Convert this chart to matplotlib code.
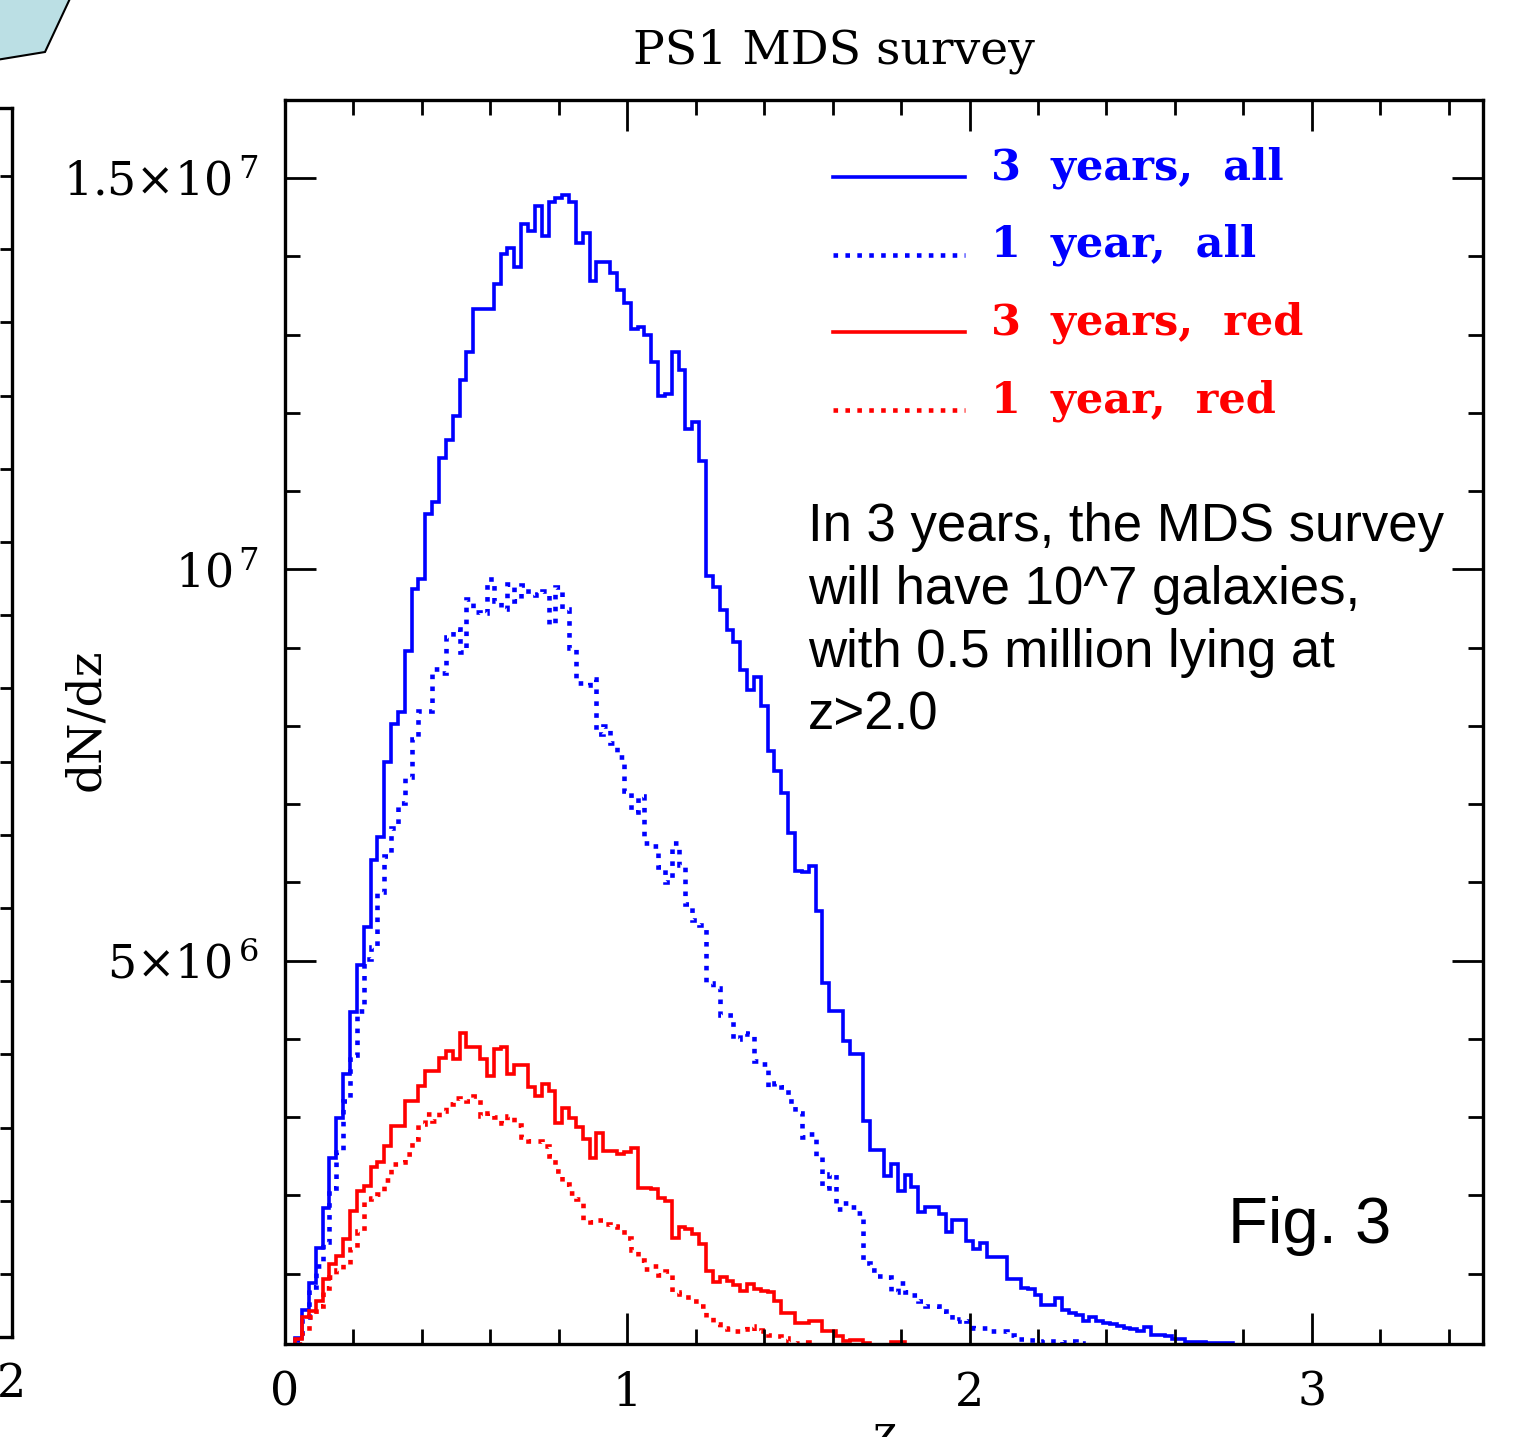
import numpy as np
import matplotlib
matplotlib.use("Agg")
import matplotlib.pyplot as plt
from matplotlib.lines import Line2D
from matplotlib.patches import Polygon
from matplotlib.legend_handler import HandlerLine2D
from matplotlib.ticker import MultipleLocator, FixedLocator, FixedFormatter

plt.rcParams["mathtext.fontset"] = "dejavuserif"

W, H, DPI = 1516, 1437, 100

# Histogram binning in redshift
bin_width = 0.02
z_first_edge = 0.03

# dN/dz per redshift bin, in units of 1e6 galaxies
all_3yr = [
    0.18, 0.54, 0.88, 1.33, 1.84, 2.48, 2.99, 3.55, 4.34, 4.95,
    5.43, 6.28, 6.58, 7.54, 8.03, 8.18, 8.96, 9.75, 9.88, 10.71,
    10.86, 11.42, 11.66, 11.96, 12.42, 12.78, 13.33, 13.33, 13.33, 13.65,
    14.03, 14.11, 13.87, 14.42, 14.33, 14.64, 14.26, 14.70, 14.75, 14.78,
    14.70, 14.17, 14.30, 13.69, 13.93, 13.93, 13.79, 13.57, 13.41, 13.07,
    13.10, 13.00, 12.65, 12.22, 12.24, 12.78, 12.55, 11.80, 11.89, 11.39,
    9.91, 9.77, 9.48, 9.23, 9.07, 8.72, 8.46, 8.63, 8.25, 7.68,
    7.42, 7.14, 6.63, 6.15, 6.13, 6.21, 5.64, 4.71, 4.36, 4.36,
    3.97, 3.81, 3.81, 2.95, 2.58, 2.58, 2.25, 2.40, 2.05, 2.26,
    2.11, 1.79, 1.85, 1.85, 1.76, 1.53, 1.68, 1.68, 1.42, 1.31,
    1.39, 1.21, 1.21, 1.21, 0.93, 0.93, 0.82, 0.80, 0.72, 0.60,
    0.60, 0.69, 0.53, 0.50, 0.47, 0.39, 0.44, 0.39, 0.37, 0.35,
    0.33, 0.31, 0.29, 0.27, 0.32, 0.22, 0.21, 0.20, 0.16, 0.16,
    0.13, 0.13, 0.13, 0.11, 0.11, 0.11, 0.11,
]
all_1yr = [
    0.15, 0.45, 0.83, 1.10, 1.40, 2.10, 2.55, 3.20, 3.80, 4.35,
    5.02, 5.17, 5.88, 6.34, 6.69, 7.01, 7.35, 7.83, 8.19, 8.19,
    8.73, 8.67, 9.14, 9.24, 8.95, 9.62, 9.45, 9.44, 9.88, 9.60,
    9.50, 9.82, 9.60, 9.80, 9.68, 9.67, 9.72, 9.30, 9.78, 9.50,
    9.00, 8.55, 8.52, 8.60, 7.90, 8.00, 7.78, 7.60, 7.17, 6.90,
    7.10, 6.50, 6.47, 6.20, 6.00, 6.50, 6.22, 5.72, 5.52, 5.45,
    4.72, 4.65, 4.30, 4.30, 4.00, 4.08, 4.06, 3.72, 3.68, 3.38,
    3.44, 3.38, 3.21, 3.05, 2.74, 2.78, 2.50, 2.10, 2.27, 1.83,
    1.90, 1.85, 1.78, 1.14, 1.05, 0.97, 0.95, 0.76, 0.88, 0.76,
    0.72, 0.65, 0.59, 0.59, 0.52, 0.48, 0.40, 0.42, 0.40, 0.31,
    0.30, 0.27, 0.27, 0.27, 0.22, 0.17, 0.16, 0.15, 0.14, 0.12,
    0.14, 0.14, 0.12, 0.14, 0.11,
]
red_3yr = [
    0.16, 0.44, 0.52, 0.65, 0.93, 1.12, 1.23, 1.44, 1.80, 2.06,
    2.12, 2.36, 2.42, 2.63, 2.89, 2.89, 3.21, 3.21, 3.40, 3.59,
    3.59, 3.76, 3.85, 3.74, 4.08, 3.89, 3.89, 3.74, 3.53, 3.87,
    3.89, 3.55, 3.66, 3.66, 3.38, 3.27, 3.42, 3.34, 2.93, 3.12,
    2.99, 2.87, 2.72, 2.48, 2.80, 2.57, 2.57, 2.53, 2.55, 2.61,
    2.10, 2.10, 2.08, 1.97, 1.93, 1.46, 1.59, 1.57, 1.50, 1.38,
    1.03, 0.89, 0.95, 0.91, 0.86, 0.78, 0.87, 0.80, 0.78, 0.76,
    0.65, 0.49, 0.49, 0.37, 0.37, 0.39, 0.39, 0.27, 0.27, 0.20,
    0.14, 0.15, 0.15, 0.11, 0.06, 0.06, 0.06, 0.13, 0.12,
]
red_1yr = [
    0.10, 0.25, 0.45, 0.58, 0.82, 0.95, 1.04, 1.12, 1.31, 1.55,
    1.95, 1.97, 2.02, 2.20, 2.40, 2.43, 2.53, 2.72, 2.91, 3.04,
    2.95, 3.08, 3.17, 3.25, 3.23, 3.21, 3.27, 3.02, 3.05, 3.00,
    2.93, 3.02, 2.90, 2.74, 2.70, 2.70, 2.63, 2.50, 2.31, 2.15,
    2.03, 1.95, 1.68, 1.66, 1.68, 1.63, 1.61, 1.60, 1.45, 1.30,
    1.18, 1.06, 1.10, 0.98, 1.03, 0.76, 0.74, 0.70, 0.65, 0.58,
    0.45, 0.35, 0.31, 0.29, 0.27, 0.29, 0.33, 0.27, 0.28, 0.22,
    0.20, 0.18, 0.12, 0.11, 0.12, 0.11, 0.09,
]

series_labels = ["3  years,  all", "1  year,  all", "3  years,  red", "1  year,  red"]
series_colors = ["#0000ff", "#0000ff", "#ff0000", "#ff0000"]
series_solid = [True, False, True, False]

x_major_values = [0, 1, 2, 3]
x_major_labels = ["0", "1", "2", "3"]
y_major_values = [5e6, 1e7, 1.5e7]
y_major_labels = [r"$5{\times}10^{\,6}$", r"$10^{\,7}$", r"$1.5{\times}10^{\,7}$"]

SERIF = ["DejaVu Serif", "DejaVu Sans"]
SANS = ["Liberation Sans", "DejaVu Sans"]
LW_SOLID = 2.6
LW_DOT = 3.3
DOT = (0, (1.0, 1.6))

fig = plt.figure(figsize=(W / DPI, H / DPI), dpi=DPI, facecolor="white")


def fx(px):
    return px / W


def fy(py):
    return 1 - py / H


class LowLineHandler(HandlerLine2D):
    """Legend key line drawn near the text baseline."""

    def create_artists(self, legend, orig_handle, xdescent, ydescent,
                       width, height, fontsize, trans):
        arts = super().create_artists(legend, orig_handle, xdescent, ydescent,
                                      width, height, fontsize, trans)
        for a in arts:
            a.set_ydata(np.asarray(a.get_ydata(), dtype=float) - 0.3 * fontsize)
        return arts


# Neighbouring panel, mostly off the left edge
ax0 = fig.add_axes([fx(12 - 400), fy(1337), 400 / W, (1337 - 108) / H])
ax0.set_xlim(0, 2)
ax0.set_ylim(0.14, 16.93)
for s in ax0.spines.values():
    s.set_linewidth(2.4)
ax0.yaxis.tick_right()
ax0.yaxis.set_major_locator(MultipleLocator(1))
ax0.yaxis.set_major_formatter(FixedFormatter([]))
ax0.tick_params(axis="y", which="both", direction="in", length=9, width=2.0,
                labelright=False)
ax0.xaxis.set_major_locator(FixedLocator([2]))
ax0.xaxis.set_major_formatter(FixedFormatter(["2"]))
ax0.tick_params(axis="x", length=0, pad=18, labelsize=33)
for t in ax0.get_xticklabels():
    t.set_fontfamily(SERIF)

# Main panel
ax = fig.add_axes([fx(285), fy(1344), (1483 - 285) / W, (1344 - 100) / H])
ax.set_xlim(0, 3.5)
ax.set_ylim(1e5, 1.6e7)

series = [all_3yr, all_1yr, red_3yr, red_1yr]
handles = []
for vals, col, solid, lab in zip(series, series_colors, series_solid, series_labels):
    v = np.asarray(vals) * 1e6
    edges = z_first_edge + bin_width * np.arange(len(v) + 1)
    if solid:
        ax.stairs(v, edges, baseline=0, color=col, lw=LW_SOLID, joinstyle="miter")
        handles.append(Line2D([], [], color=col, lw=LW_SOLID, label=lab))
    else:
        ax.stairs(v, edges, baseline=0, color=col, lw=LW_DOT, linestyle=DOT,
                  joinstyle="miter", capstyle="butt")
        handles.append(Line2D([], [], color=col, lw=LW_DOT, linestyle=DOT,
                              dash_capstyle="butt", label=lab))

for s in ax.spines.values():
    s.set_linewidth(2.4)
ax.xaxis.set_major_locator(FixedLocator(x_major_values))
ax.xaxis.set_minor_locator(MultipleLocator(0.2))
ax.xaxis.set_major_formatter(FixedFormatter(x_major_labels))
ax.yaxis.set_major_locator(FixedLocator(y_major_values))
ax.yaxis.set_minor_locator(MultipleLocator(1e6))
ax.yaxis.set_major_formatter(FixedFormatter(y_major_labels))
ax.tick_params(which="both", direction="in", top=True, right=True, width=2.0)
ax.tick_params(which="major", length=22)
ax.tick_params(which="minor", length=10.5)
ax.tick_params(axis="x", which="major", pad=19, labelsize=33)
ax.tick_params(axis="y", which="major", pad=19, labelsize=33)
for t in ax.get_xticklabels() + ax.get_yticklabels():
    t.set_fontfamily(SERIF)

leg = ax.legend(handles=handles, loc="upper left", bbox_to_anchor=(0.4574, 0.963),
                frameon=False, handlelength=3.06, handletextpad=0.62,
                labelspacing=0.82, borderpad=0, borderaxespad=0,
                prop={"family": SERIF, "size": 31, "weight": "bold"},
                labelcolor="linecolor",
                handler_map={Line2D: LowLineHandler()})

fig.text(fx(834), fy(63), "PS1 MDS survey", ha="center", va="baseline",
         fontsize=34, family=SERIF)
fig.text(fx(86), fy(720), "dN/dz", ha="center", va="center", rotation=90,
         fontsize=34, family=SERIF)
fig.text(fx(884), fy(1448), "z", ha="center", va="baseline",
         fontsize=33, family=SERIF)

fig.text(fx(808), fy(502),
         "In 3 years, the MDS survey\nwill have 10^7 galaxies,\n"
         "with 0.5 million lying at\nz>2.0",
         ha="left", va="top", fontsize=38, family=SANS, linespacing=1.33)
fig.text(fx(1228), fy(1243), "Fig. 3", ha="left", va="baseline",
         fontsize=47, family=SANS)

# Callout shape in the top-left corner
corner = Polygon([(fx(-10), fy(-10)), (fx(74), fy(-10)), (fx(45), fy(52)),
                  (fx(-10), fy(61))], closed=True, transform=fig.transFigure,
                 facecolor="#bbdfe4", edgecolor="black", lw=1.5)
fig.add_artist(corner)

fig.savefig("out.png", dpi=DPI, facecolor="white")
